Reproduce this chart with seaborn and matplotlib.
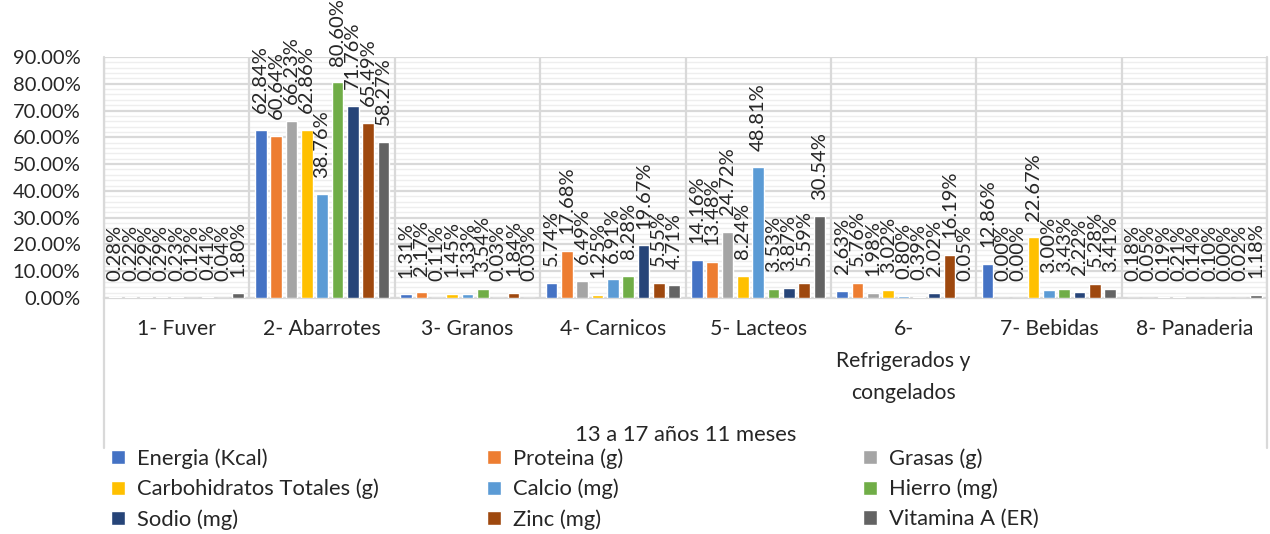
import pandas as pd
import numpy as np
import matplotlib.pyplot as plt
import seaborn as sns
from matplotlib.ticker import MultipleLocator, FixedLocator
from matplotlib.lines import Line2D

categorias = ['1- Fuver', '2- Abarrotes', '3- Granos', '4- Carnicos', '5- Lacteos',
              '6-\nRefrigerados y\ncongelados', '7- Bebidas', '8- Panaderia']
nutrientes = ['Energia (Kcal)', 'Proteina (g)', 'Grasas (g)', 'Carbohidratos Totales (g)',
              'Calcio (mg)', 'Hierro (mg)', 'Sodio (mg)', 'Zinc (mg)', 'Vitamina A (ER)']
energia = [0.28, 62.84, 1.31, 5.74, 14.16, 2.63, 12.86, 0.18]
proteina = [0.22, 60.64, 2.17, 17.68, 13.48, 5.76, 0.00, 0.05]
grasas = [0.29, 66.23, 0.11, 6.49, 24.72, 1.98, 0.00, 0.19]
carbohidratos = [0.29, 62.86, 1.45, 1.25, 8.24, 3.02, 22.67, 0.21]
calcio = [0.23, 38.76, 1.33, 6.91, 48.81, 0.80, 3.00, 0.14]
hierro = [0.12, 80.60, 3.54, 8.28, 3.53, 0.39, 3.43, 0.10]
sodio = [0.41, 71.76, 0.03, 19.67, 3.87, 2.02, 2.22, 0.00]
zinc = [0.04, 65.49, 1.84, 5.55, 5.59, 16.19, 5.28, 0.02]
vitamina_a = [1.80, 58.27, 0.03, 4.71, 30.54, 0.05, 3.41, 1.18]
y_ticks = [0, 10, 20, 30, 40, 50, 60, 70, 80, 90]
titulo_x = '13 a 17 años 11 meses'

colores = ['#4472C4', '#ED7D31', '#A5A5A5', '#FFC000', '#5B9BD5',
           '#70AD47', '#264478', '#9E480E', '#636363']

series = [energia, proteina, grasas, carbohidratos, calcio, hierro, sodio, zinc, vitamina_a]
df = pd.DataFrame({
    'categoria': categorias * len(nutrientes),
    'nutriente': np.repeat(nutrientes, len(categorias)),
    'valor': np.concatenate(series),
})

sns.set_style('white')
plt.rcParams['font.family'] = ['Lato', 'DejaVu Sans']
FS = 14.5        # numeros
FS_CAT = 15.2    # categorias
FS_LEG = 15.8    # leyenda y titulo
W, H = 1270, 534

fig = plt.figure(figsize=(12.7, 5.34), dpi=100)
ax = fig.add_axes([104 / W, 1 - 298 / H, (1267 - 104) / W, (298 - 57) / H])

sns.barplot(data=df, x='categoria', y='valor', hue='nutriente', order=categorias,
            hue_order=nutrientes, palette=colores, width=0.95, gap=0.24,
            saturation=1, errorbar=None, legend=True, ax=ax, zorder=3)

for cont in ax.containers:
    ax.bar_label(cont, labels=[f'{b.get_height():.2f}%' for b in cont],
                 rotation=90, padding=12, fontsize=FS, color='#262626')

ax.set_ylim(0, 90)
ax.set_xlim(-0.5, len(categorias) - 0.5)
ax.yaxis.set_major_locator(FixedLocator(y_ticks))
ax.set_yticklabels([f'{v:.2f}%' for v in y_ticks], fontsize=FS, color='#262626')
ax.yaxis.set_minor_locator(MultipleLocator(2))
ax.grid(axis='y', which='major', color='#d9d9d9', lw=1.6, zorder=0)
ax.grid(axis='y', which='minor', color='#eeeeee', lw=1.0, zorder=0)
ax.vlines(np.arange(len(categorias) + 1) - 0.5, 0, 90, color='#d9d9d9', lw=1.6, zorder=1)
ax.tick_params(axis='y', length=0, pad=17)
ax.tick_params(axis='x', length=0, pad=15, labelsize=FS_CAT, labelcolor='#262626')
for lab in ax.get_xticklabels():
    lab.set_linespacing(1.75)
ax.set_xlabel('')
ax.set_ylabel('')
for s in ['top', 'right', 'left']:
    ax.spines[s].set_visible(False)
ax.spines['bottom'].set_color('#d9d9d9')
ax.spines['bottom'].set_linewidth(1.6)

# marco del area de categorias
for xp in [104 / W, 1267 / W]:
    fig.add_artist(Line2D([xp, xp], [1 - 57 / H, 1 - 448 / H], color='#d9d9d9', lw=1.6))

fig.text(686 / W, 1 - 435 / H, titulo_x, ha='center', va='center', fontsize=FS_LEG, color='#262626')

handles, labels = ax.get_legend_handles_labels()
ax.get_legend().remove()
col_x = [107, 483, 859]
for c in range(3):
    leg = fig.legend(handles[c::3], labels[c::3], loc='upper left',
                     bbox_to_anchor=(col_x[c] / W, 1 - 444 / H), frameon=False,
                     fontsize=FS_LEG, handlelength=0.62, handleheight=0.62,
                     handletextpad=0.55, labelspacing=0.45, borderaxespad=0,
                     borderpad=0.2)
    for t in leg.get_texts():
        t.set_color('#262626')

fig.savefig('out.png', dpi=100)
